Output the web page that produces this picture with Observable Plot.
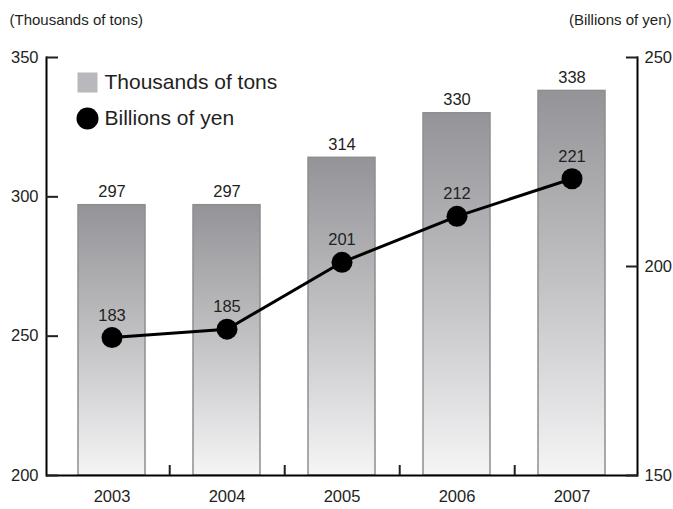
<!DOCTYPE html>
<html>
<head>
<meta charset="utf-8">
<script src="https://cdn.jsdelivr.net/npm/d3@7"></script>
<script src="https://cdn.jsdelivr.net/npm/@observablehq/plot@0.6"></script>
<style>
  html, body { margin: 0; padding: 0; background: #fff; }
  #chart svg { display: block; }
</style>
</head>
<body>
<div id="chart"></div>
<script>
const years = ["2003", "2004", "2005", "2006", "2007"];
const tons = [297, 297, 314, 330, 338];          // left axis, thousands of tons
const yen = [183, 185, 201, 212, 221];           // right axis, billions of yen
const leftTicks = [200, 250, 300, 350];
const rightTicks = [150, 200, 250];
const leftDomain = [200, 350];
const rightDomain = [150, 250];
const unitLeft = "(Thousands of tons)";
const unitRight = "(Billions of yen)";
const legendBar = "Thousands of tons";
const legendLine = "Billions of yen";

// map right-axis values onto the left-axis scale
const k = (leftDomain[1] - leftDomain[0]) / (rightDomain[1] - rightDomain[0]);
const toLeft = v => leftDomain[0] + (v - rightDomain[0]) * k;
const toRight = v => rightDomain[0] + (v - leftDomain[0]) / k;

const barData = years.map((y, i) => ({year: y, value: tons[i]}));
const lineData = years.map((y, i) => ({year: y, value: yen[i], scaled: toLeft(yen[i])}));

const W = 673, H = 509;
const mL = 46, mR = 36, mT = 57, mB = 34;
const padIn = 0.42, padOut = 0.27;
const step = (W - mL - mR) / (years.length - padIn + 2 * padOut);

const font = "'Liberation Sans', Arial, sans-serif";
const textColor = "#231f20";
const numSize = 16.5;

const defs = () => {
  const d = d3.create("svg:defs");
  const g = d.append("linearGradient").attr("id", "barGrad")
    .attr("x1", 0).attr("y1", 0).attr("x2", 0).attr("y2", 1);
  g.append("stop").attr("offset", "0%").attr("stop-color", "#949498");
  g.append("stop").attr("offset", "50%").attr("stop-color", "#c2c2c5");
  g.append("stop").attr("offset", "100%").attr("stop-color", "#f5f5f6");
  return d.node();
};

const plot = Plot.plot({
  width: W,
  height: H,
  marginLeft: mL,
  marginRight: mR,
  marginTop: mT,
  marginBottom: mB,
  style: {fontFamily: font, color: textColor, background: "#fff"},
  x: {type: "band", domain: years, paddingInner: padIn, paddingOuter: padOut, axis: null},
  y: {domain: leftDomain, axis: null},
  marks: [
    defs,
    Plot.barY(barData, {x: "year", y1: leftDomain[0], y2: "value", fill: "url(#barGrad)", stroke: "#8e8e90", strokeWidth: 1.5}),
    Plot.text(barData, {x: "year", y: "value", text: d => String(d.value), lineAnchor: "bottom", dy: -8, fontSize: numSize, fill: textColor}),
    // axis lines
    Plot.frame({anchor: "left", stroke: "#000", strokeWidth: 2}),
    Plot.frame({anchor: "right", stroke: "#000", strokeWidth: 2}),
    Plot.ruleY([leftDomain[0]], {stroke: "#000", strokeWidth: 2}),
    // left axis ticks (inward) and labels
    Plot.axisY({anchor: "left", ticks: leftTicks, tickSize: 12, dx: 12, strokeWidth: 2, tickFormat: () => "", label: null}),
    Plot.axisY({anchor: "left", ticks: leftTicks, tickSize: 0, tickPadding: 8, fontSize: numSize, label: null, fill: textColor}),
    // right axis ticks (inward) and labels
    Plot.axisY({anchor: "right", ticks: rightTicks.map(toLeft), tickSize: 12, dx: -12, strokeWidth: 2, tickFormat: () => "", label: null}),
    Plot.axisY({anchor: "right", ticks: rightTicks.map(toLeft), tickFormat: d => String(Math.round(toRight(d))), tickSize: 0, tickPadding: 7, fontSize: numSize, label: null, fill: textColor}),
    // x axis: boundary ticks and category labels
    Plot.axisX({anchor: "bottom", ticks: years.slice(0, -1), tickSize: 10, dx: step / 2, dy: -10, strokeWidth: 2, tickFormat: () => "", label: null}),
    Plot.axisX({anchor: "bottom", ticks: years, tickSize: 0, tickPadding: 15, fontSize: numSize, label: null, fill: textColor}),
    // line series
    Plot.line(lineData, {x: "year", y: "scaled", stroke: "#000", strokeWidth: 3}),
    Plot.dot(lineData, {x: "year", y: "scaled", r: 10.5, fill: "#000"}),
    Plot.text(lineData, {x: "year", y: "scaled", text: d => String(d.value), lineAnchor: "bottom", dy: -17, fontSize: numSize, fill: textColor}),
    // unit labels
    Plot.text([unitLeft], {frameAnchor: "top-left", dx: -37, dy: -37, lineAnchor: "middle", textAnchor: "start", fontSize: 15, fill: textColor}),
    Plot.text([unitRight], {frameAnchor: "top-right", dx: 34, dy: -37, lineAnchor: "middle", textAnchor: "end", fontSize: 15, fill: textColor}),
    // legend
    Plot.dot([legendBar], {frameAnchor: "top-left", dx: 41, dy: 25, symbol: "square", r: 11.3, fill: "#b9b9bd"}),
    Plot.text([legendBar], {frameAnchor: "top-left", dx: 58, dy: 25, lineAnchor: "middle", textAnchor: "start", fontSize: 21, fill: textColor}),
    Plot.dot([legendLine], {frameAnchor: "top-left", dx: 41, dy: 61, r: 11, fill: "#000"}),
    Plot.text([legendLine], {frameAnchor: "top-left", dx: 58, dy: 61, lineAnchor: "middle", textAnchor: "start", fontSize: 21, fill: textColor})
  ]
});

document.getElementById("chart").appendChild(plot);
</script>
</body>
</html>
